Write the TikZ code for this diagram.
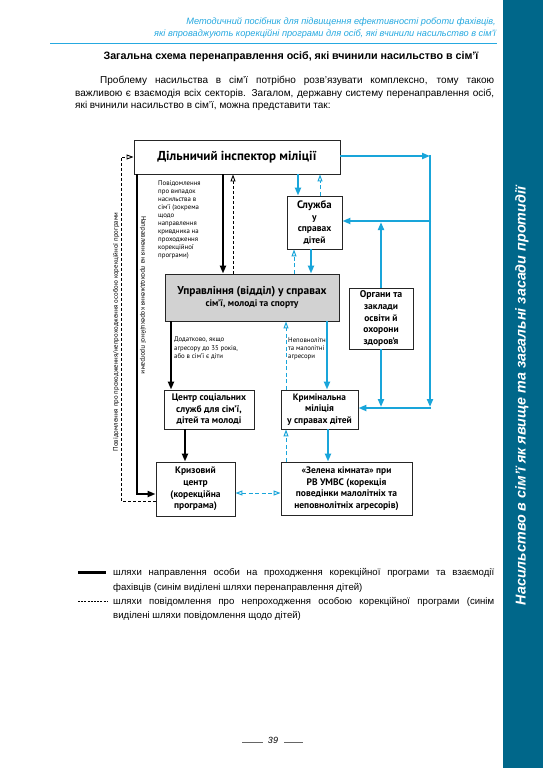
\documentclass[tikz,border=0pt]{standalone}
\usepackage{fontspec}
\setmainfont{Liberation Sans}
\newfontfamily\pts{PT Sans}
\usetikzlibrary{arrows.meta}
\definecolor{hdr}{RGB}{38,169,224}
\definecolor{sidebar}{RGB}{0,103,138}
\definecolor{lb}{RGB}{25,165,218}
\definecolor{boxgray}{RGB}{210,210,210}
\tikzset{
  box/.style={draw=black!85, line width=0.9pt, inner sep=0pt, align=center, font=\pts\bfseries\fontsize{9.5}{11.6}\selectfont},
  blk/.style={line width=2.4pt, -{Triangle[length=8pt,width=6pt]}},
  bdash/.style={line width=0.9pt, dash pattern=on 3pt off 2pt, -{Triangle[open,length=7pt,width=5pt,fill=white]}},
  blu/.style={draw=lb, line width=2.2pt, -{Triangle[length=8pt,width=6pt]}},
  bludash/.style={draw=lb, line width=1pt, dash pattern=on 4pt off 2.5pt, -{Triangle[open,length=7pt,width=5pt,fill=white]}},
  small/.style={font=\pts\fontsize{6.8}{8.1}\selectfont, align=left, inner sep=0pt},
  txt/.style={font=\fontsize{10}{12}\selectfont, inner sep=0pt},
  lgd/.style={font=\fontsize{9.6}{12}\selectfont, inner sep=0pt},
  hdrtxt/.style={font=\itshape\fontsize{9.2}{11}\selectfont, text=hdr, inner sep=0pt},
}
\begin{document}
\begin{tikzpicture}[x=1pt,y=-1pt]
\fill[white] (0,0) rectangle (543,768);
\useasboundingbox (0,0) rectangle (543,768);
% sidebar
\fill[sidebar] (503,0) rectangle (543,768);
\node[rotate=90, text=white, inner sep=0pt, font=\bfseries\itshape\fontsize{14.3}{16}\selectfont] (side) at (522,396) {Насильство в сім’ї як явище та загальні засади протидії};
% header
\node[hdrtxt, anchor=base east] (h1) at (496,25) {Методичний посібник для підвищення ефективності роботи фахівців,};
\node[hdrtxt, anchor=base east] (h2) at (496,37) {які впроваджують корекційні програми для осіб, які вчинили насильство в сім’ї};
\coordinate (hl1) at (50,43);
\coordinate (hl2) at (497,43);
\draw[hdr, line width=0.7pt] (hl1) -- (hl2);
% title and paragraph
\node[txt, font=\bfseries\fontsize{10.7}{12}\selectfont, anchor=base] (title) at (291,59.5) {Загальна схема перенаправлення осіб, які вчинили насильство в сім’ї};
\node[txt, anchor=base west] (p1) at (100,83.6) {\makebox[394pt][s]{Проблему насильства в сім’ї потрібно розв’язувати комплексно, тому такою}};
\node[txt, anchor=base west] (p2) at (75,96) {\makebox[419pt][s]{важливою є взаємодія всіх секторів. Загалом, державну систему перенаправлення осіб,}};
\node[txt, anchor=base west] (p3) at (75,108.6) {які вчинили насильство в сім’ї, можна представити так:};
% boxes
\node[box, minimum width=206pt, minimum height=34pt] (dil) at (237,157) {\fontsize{13}{14}\selectfont Дільничий інспектор міліції};
\node[box, minimum width=55pt, minimum height=53pt] (sluzh) at (314.5,222.5) {\fontsize{10.8}{11.8}\selectfont Служба\\у\\справах\\дітей};
\node[box, fill=boxgray, minimum width=174pt, minimum height=47pt] (upr) at (252,297.5) {\fontsize{11.4}{12.5}\selectfont Управління (відділ) у справах\\сім’ї, молоді та спорту};
\node[box, minimum width=64pt, minimum height=61pt] (org) at (381,318.5) {\fontsize{9.8}{11.7}\selectfont Органи та\\заклади\\освіти й\\охорони\\здоров’я};
\node[box, minimum width=90pt, minimum height=39pt] (centr) at (209,409.5) {\fontsize{9.5}{11.5}\selectfont Центр соціальних\\служб для сім’ї,\\дітей та молоді};
\node[box, minimum width=77pt, minimum height=39pt] (krym) at (319.5,409.5) {\fontsize{9.3}{11.5}\selectfont Кримінальна\\міліція\\у справах дітей};
\node[box, minimum width=79pt, minimum height=54pt] (kryz) at (195.5,489) {Кризовий\\центр\\(корекційна\\програма)};
\node[box, minimum width=131pt, minimum height=53pt] (zel) at (346.5,488.5) {\fontsize{9.4}{11.6}\selectfont «Зелена кімната» при\\РВ УМВС (корекція\\поведінки малолітніх та\\неповнолітніх агресорів)};
% labels
\node[small, anchor=north west] (lab1) at (158,180) {Повідомлення\\про випадок\\насильства в\\сім’ї (зокрема\\щодо\\направлення\\кривдника на\\проходження\\корекційної\\програми)};
\node[small, anchor=north west] (lab2) at (174,337) {Додатково, якщо\\агресору до 35 років,\\або в сім’ї є діти};
\node[small, anchor=north west] (lab3) at (288,337) {Неповнолітні\\та малолітні\\агресори};
\node[small, rotate=90] (lab4) at (116,332) {Повідомлення про проходження/непроходження особою корекційної програми};
\node[small, rotate=-90] (lab5) at (143,295) {Направлення на проходження корекційної програми};
% black connectors
\coordinate (k1) at (137,494);
\draw[blk] (k1 |- dil.south) -- (k1) -- (k1 -| kryz.west);
\coordinate (k2) at (121,501);
\draw[bdash] (k2 -| kryz.west) -- (k2) |- (dil.west);
\coordinate (k3) at (223,0);
\draw[blk] (k3 |- dil.south) -- (k3 |- upr.north);
\coordinate (k4) at (233,0);
\draw[bdash] (k4 |- upr.north) -- (k4 |- dil.south);
\coordinate (k5) at (171,0);
\draw[blk] (k5 |- upr.south) -- (k5 |- centr.north);
\coordinate (k6) at (185,0);
\draw[blk] (k6 |- centr.south) -- (k6 |- kryz.north);
% blue connectors
\coordinate (b1) at (298,0);
\draw[blu] (b1 |- dil.south) -- (b1 |- sluzh.north);
\coordinate (b2) at (320,0);
\draw[bludash] (b2 |- sluzh.north) -- (b2 |- dil.south);
\coordinate (b3) at (294,0);
\draw[bludash] (b3 |- upr.north) -- (b3 |- sluzh.south);
\coordinate (b4) at (311,0);
\draw[blu] (b4 |- sluzh.south) -- (b4 |- upr.north);
\coordinate (r1) at (430,156);
\coordinate (r2) at (430,221);
\coordinate (r3) at (430,408);
\coordinate (r3e) at (430,407);
\draw[blu] (r1 -| dil.east) -- (r1);
\draw[blu] ([yshift=1.1pt]r1) -- (r3e);
\draw[blu] ([xshift=1.1pt]r2) -- (r2 -| sluzh.east);
\draw[blu] ([xshift=1.1pt]r3) -- (r3 -| krym.east);
\coordinate (o1) at (381,222.1);
\coordinate (o2) at (381,407);
\draw[blu] (org.north) -- (o1);
\draw[blu] (org.south) -- (o2);
\coordinate (b5) at (327,0);
\draw[blu] (b5 |- upr.south) -- (b5 |- krym.north);
\coordinate (b6) at (286,0);
\draw[bludash] (b6 |- krym.north) -- (b6 |- upr.south);
\coordinate (b7) at (0,493);
\draw[bludash, {Triangle[open,length=7pt,width=5pt,fill=white]}-{Triangle[open,length=7pt,width=5pt,fill=white]}] (b7 -| kryz.east) -- (b7 -| zel.west);
\draw[bludash] (b6 |- zel.north) -- (b6 |- krym.south);
\coordinate (b9) at (328,0);
\draw[blu] (b9 |- krym.south) -- (b9 |- zel.north);
% legend
\coordinate (l1a) at (78,572);
\coordinate (l1b) at (106,572);
\draw[line width=3pt] (l1a) -- (l1b);
\coordinate (l2a) at (78,601);
\coordinate (l2b) at (108,601);
\draw[line width=0.8pt, dash pattern=on 2pt off 1.2pt] (l2a) -- (l2b);
\node[lgd, anchor=base west] (g1) at (113,575.5) {\makebox[381pt][s]{шляхи направлення особи на проходження корекційної програми та взаємодії}};
\node[lgd, anchor=base west] (g2) at (113,590) {фахівців (синім виділені шляхи перенаправлення дітей)};
\node[lgd, anchor=base west] (g3) at (113,604.5) {\makebox[381pt][s]{шляхи повідомлення про непроходження особою корекційної програми (синім}};
\node[lgd, anchor=base west] (g4) at (113,618.5) {виділені шляхи повідомлення щодо дітей)};
% page number
\node[font=\itshape\fontsize{9}{10}\selectfont, inner sep=0pt] (pg) at (273,740) {39};
\coordinate (d1a) at (242,742.5);
\coordinate (d1b) at (263,742.5);
\coordinate (d2a) at (284,742.5);
\coordinate (d2b) at (303,742.5);
\draw[line width=0.5pt, black!60] (d1a) -- (d1b);
\draw[line width=0.5pt, black!60] (d2a) -- (d2b);
\end{tikzpicture}
\end{document}
